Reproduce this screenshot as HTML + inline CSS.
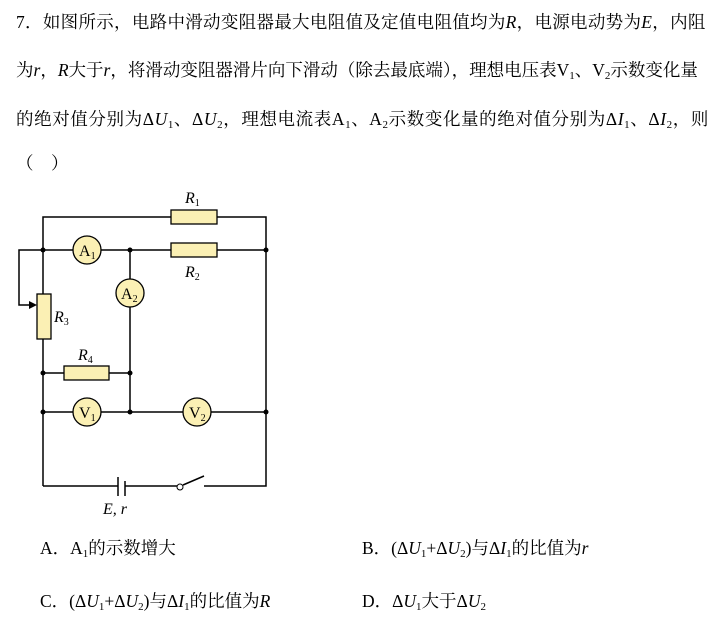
<!DOCTYPE html>
<html><head><meta charset="utf-8"><style>
html,body{margin:0;padding:0;background:#fff;}
body{width:713px;height:628px;position:relative;overflow:hidden;font-family:"Liberation Serif","Noto Serif CJK SC","Noto Sans CJK SC",serif;font-size:17.5px;color:#000;}
.l{position:absolute;white-space:nowrap;line-height:20px;}
i{font-style:italic;}
sub{font-size:11px;vertical-align:-3px;line-height:0;}
</style></head><body>
<div class="l" style="left:16px;top:12px;letter-spacing:0.3px;">7．如图所示，电路中滑动变阻器最大电阻值及定值电阻值均为<i>R</i>，电源电动势为<i>E</i>，内阻</div>
<div class="l" style="left:16px;top:60px;">为<i>r</i>，<i>R</i>大于<i>r</i>，将滑动变阻器滑片向下滑动（除去最底端），理想电压表V<sub>1</sub>、V<sub>2</sub>示数变化量</div>
<div class="l" style="left:16px;top:109px;letter-spacing:0.6px;">的绝对值分别为Δ<i>U</i><sub>1</sub>、Δ<i>U</i><sub>2</sub>，理想电流表A<sub>1</sub>、A<sub>2</sub>示数变化量的绝对值分别为Δ<i>I</i><sub>1</sub>、Δ<i>I</i><sub>2</sub>，则</div>
<div class="l" style="left:16px;top:153px;">（&nbsp;&nbsp;&nbsp;&nbsp;）</div>
<div class="l" style="left:40px;top:538px;">A．A<sub>1</sub>的示数增大</div>
<div class="l" style="left:362px;top:538px;">B．(Δ<i>U</i><sub>1</sub>+Δ<i>U</i><sub>2</sub>)与Δ<i>I</i><sub>1</sub>的比值为<i>r</i></div>
<div class="l" style="left:40px;top:591px;">C．(Δ<i>U</i><sub>1</sub>+Δ<i>U</i><sub>2</sub>)与Δ<i>I</i><sub>1</sub>的比值为<i>R</i></div>
<div class="l" style="left:362px;top:591px;">D．Δ<i>U</i><sub>1</sub>大于Δ<i>U</i><sub>2</sub></div>
<svg width="713" height="628" style="position:absolute;left:0;top:0" xmlns="http://www.w3.org/2000/svg">
<g stroke="#000" stroke-width="1.5" fill="none">
<path d="M43 486 V217 H266 V486 H204"/>
<path d="M43 250 H266"/>
<path d="M130 250 V412"/>
<path d="M43 373 H130"/>
<path d="M43 412 H266"/>
<path d="M43 486 H118 M125 486 H177"/>
<path d="M183 485 L204 476"/>
<path d="M43 250 H19 V305 H32"/>
</g>
<path d="M37 305 L29 301 L29 309 Z" fill="#000"/>
<g stroke="#000" stroke-width="1.5">
<line x1="118" y1="477" x2="118" y2="496"/>
<line x1="125" y1="481" x2="125" y2="496"/>
</g>
<circle cx="180" cy="487" r="3" fill="#fff" stroke="#000" stroke-width="1"/>
<g fill="#fbf0b4" stroke="#000" stroke-width="1.3">
<rect x="171" y="210" width="46" height="14"/>
<rect x="171" y="243" width="46" height="14"/>
<rect x="37" y="294" width="14" height="45"/>
<rect x="64" y="366" width="45" height="14"/>
<circle cx="87" cy="250" r="14"/>
<circle cx="130" cy="293" r="14"/>
<circle cx="87" cy="412" r="14"/>
<circle cx="197" cy="412" r="14"/>
</g>
<g fill="#000">
<circle cx="43" cy="250" r="2.5"/><circle cx="130" cy="250" r="2.5"/><circle cx="266" cy="250" r="2.5"/>
<circle cx="43" cy="373" r="2.5"/><circle cx="130" cy="373" r="2.5"/>
<circle cx="43" cy="412" r="2.5"/><circle cx="130" cy="412" r="2.5"/><circle cx="266" cy="412" r="2.5"/>
</g>
<g font-family="Liberation Serif, serif" font-size="16" fill="#000">
<text x="79" y="256">A<tspan font-size="10" dy="3">1</tspan></text>
<text x="121" y="299">A<tspan font-size="10" dy="3">2</tspan></text>
<text x="79" y="418">V<tspan font-size="10" dy="3">1</tspan></text>
<text x="189" y="418">V<tspan font-size="10" dy="3">2</tspan></text>
<text x="185" y="203" font-style="italic">R<tspan font-size="10" font-style="normal" dy="3">1</tspan></text>
<text x="185" y="277" font-style="italic">R<tspan font-size="10" font-style="normal" dy="3">2</tspan></text>
<text x="54" y="322" font-style="italic">R<tspan font-size="10" font-style="normal" dy="3">3</tspan></text>
<text x="78" y="360" font-style="italic">R<tspan font-size="10" font-style="normal" dy="3">4</tspan></text>
<text x="103" y="514" font-style="italic">E, r</text>
</g>
</svg>
</body></html>
